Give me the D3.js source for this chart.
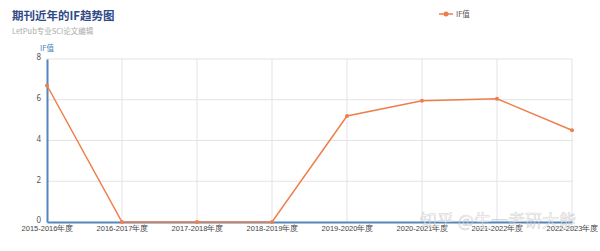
<!DOCTYPE html>
<html>
<head>
<meta charset="utf-8">
<script src="https://cdn.jsdelivr.net/npm/d3@7/dist/d3.min.js"></script>
<style>
  html, body { margin: 0; padding: 0; background: #fff; }
  svg { display: block; font-family: "Noto Sans CJK SC", "Noto Sans", sans-serif; }
</style>
</head>
<body>
<svg id="chart" width="600" height="251"></svg>
<script>
// chart data
const years = ['2015-2016年度', '2016-2017年度', '2017-2018年度', '2018-2019年度',
               '2019-2020年度', '2020-2021年度', '2021-2022年度', '2022-2023年度'];
const ifValues = [6.7, 0, 0, 0, 5.2, 5.95, 6.05, 4.5];
const yTicks = [0, 2, 4, 6, 8];

const svg = d3.select('#chart');
const margin = { left: 47, right: 28, top: 59, bottom: 29 };
const width = 600, height = 251;
const lineColor = '#ee7f4b';
const axisColor = '#5585bd';

// title + subtitle
svg.append('text')
  .attr('x', 12).attr('y', 20)
  .attr('font-size', '11.5px').attr('font-weight', 'bold')
  .attr('fill', '#2f4a86')
  .text('期刊近年的IF趋势图');
svg.append('text')
  .attr('x', 12).attr('y', 34)
  .attr('font-size', '7.5px')
  .attr('fill', '#aaa')
  .text('LetPub专业SCI论文编辑');

// scales
const x = d3.scalePoint().domain(years).range([margin.left, width - margin.right]);
const y = d3.scaleLinear().domain([0, 8]).range([height - margin.bottom, margin.top]);

// grid
svg.append('g').selectAll('line.h')
  .data(yTicks.filter(d => d > 0))
  .enter().append('line')
    .attr('x1', margin.left).attr('x2', width - margin.right)
    .attr('y1', d => y(d)).attr('y2', d => y(d))
    .attr('stroke', '#e3e3e3').attr('stroke-width', 1);
svg.append('g').selectAll('line.v')
  .data(years.slice(1))
  .enter().append('line')
    .attr('x1', d => x(d)).attr('x2', d => x(d))
    .attr('y1', margin.top).attr('y2', y(0))
    .attr('stroke', '#e3e3e3').attr('stroke-width', 1);

// y axis
const yAxis = svg.append('g')
  .attr('transform', `translate(${margin.left},0)`)
  .call(d3.axisLeft(y).tickValues(yTicks).tickSize(0).tickPadding(6));
yAxis.select('.domain').attr('stroke', axisColor).attr('stroke-width', 2);
yAxis.selectAll('text').attr('font-size', '8px').attr('fill', '#555')
  .attr('font-family', '"Noto Sans", sans-serif').attr('dy', '0.1em');

svg.append('text')
  .attr('x', margin.left).attr('y', 51)
  .attr('text-anchor', 'middle')
  .attr('font-size', '7.5px').attr('fill', '#4a7fbf')
  .text('IF值');

// x axis
const xAxis = svg.append('g')
  .attr('transform', `translate(0,${y(0)})`)
  .call(d3.axisBottom(x).tickSize(0).tickPadding(4));
xAxis.select('.domain').attr('stroke', axisColor).attr('stroke-width', 2);
xAxis.selectAll('text').attr('font-size', '7.5px').attr('fill', '#444');

// line
const line = d3.line().x((d, i) => x(years[i])).y(d => y(d));
svg.append('path')
  .datum(ifValues)
  .attr('d', line)
  .attr('fill', 'none')
  .attr('stroke', lineColor)
  .attr('stroke-width', 1.5);
svg.append('g').selectAll('circle')
  .data(ifValues)
  .enter().append('circle')
    .attr('cx', (d, i) => x(years[i]))
    .attr('cy', d => y(d))
    .attr('r', 2)
    .attr('fill', lineColor);

// legend
const lg = svg.append('g').attr('transform', 'translate(439,14)');
lg.append('line').attr('x1', 0).attr('x2', 14).attr('y1', 0).attr('y2', 0)
  .attr('stroke', lineColor).attr('stroke-width', 1.5);
lg.append('circle').attr('cx', 7).attr('cy', 0).attr('r', 2.5).attr('fill', lineColor);
lg.append('text').attr('x', 17).attr('y', 2.8)
  .attr('font-size', '7.5px').attr('fill', '#555').text('IF值');

// watermark
svg.append('text')
  .attr('x', 420).attr('y', 227)
  .attr('font-size', '17px')
  .attr('fill', 'rgba(255,255,255,0.55)')
  .attr('stroke', 'rgba(120,120,120,0.35)').attr('stroke-width', 0.6)
  .text('知乎 @生一考研大能');
</script>
</body>
</html>
